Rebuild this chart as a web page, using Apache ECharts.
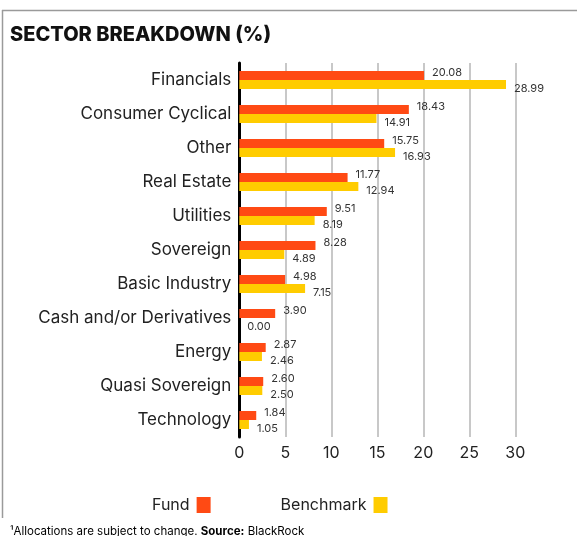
<!DOCTYPE html>
<html>
<head>
<meta charset="utf-8">
<script src="https://cdn.jsdelivr.net/npm/echarts@6/dist/echarts.min.js"></script>
<style>
html,body{margin:0;padding:0;background:#fff;}
#chart{width:577px;height:536px;}
</style>
</head>
<body>
<div id="chart"></div>
<script>
const categories = ["Financials","Consumer Cyclical","Other","Real Estate","Utilities","Sovereign","Basic Industry","Cash and/or Derivatives","Energy","Quasi Sovereign","Technology"];
const fundValues = [20.08,18.43,15.75,11.77,9.51,8.28,4.98,3.90,2.87,2.60,1.84];
const benchmarkValues = [28.99,14.91,16.93,12.94,8.19,4.89,7.15,0.00,2.46,2.50,1.05];
const xTicks = [0,5,10,15,20,25,30];

const FONT = 'Inter, "Noto Sans", sans-serif';
const chart = echarts.init(document.getElementById('chart'));
chart.setOption({
  animation: false,
  backgroundColor: '#fff',
  title: {
    text: 'SECTOR BREAKDOWN (%)',
    left: 5, top: 20,
    textStyle: {fontFamily: FONT, fontSize: 20, fontWeight: 800, color: '#111'}
  },
  legend: {
    data: ['Fund','Benchmark'],
    left: 147, top: 492,
    align: 'right',
    itemWidth: 14, itemHeight: 16, itemGap: 70,
    icon: 'rect',
    textStyle: {fontFamily: FONT, fontSize: 16, color: '#222', padding: [0,2,0,0]}
  },
  grid: {left: 239.3, right: 61.7, top: 63, bottom: 99, containLabel: false},
  xAxis: {
    type: 'value', min: 0, max: 30, interval: 5,
    axisLine: {show: false}, axisTick: {show: false},
    splitLine: {show: true, lineStyle: {color: '#c8c8c8', width: 2}},
    axisLabel: {fontFamily: FONT, fontSize: 16, color: '#222', margin: 8,
      formatter: v => xTicks.includes(v) ? String(v) : ''}
  },
  yAxis: {
    type: 'category', data: categories, inverse: true,
    axisLine: {show: true, lineStyle: {color: '#000', width: 3}},
    axisTick: {show: false},
    axisLabel: {fontFamily: FONT, fontSize: 17, color: '#222', margin: 8}
  },
  series: [
    {
      name: 'Fund', type: 'bar', data: fundValues, barWidth: 9, barGap: '0%',
      itemStyle: {color: '#FF4A14'},
      label: {show: true, position: 'right', distance: 8, offset: [0,-3],
        fontFamily: FONT, fontSize: 11, color: '#333', formatter: p => p.value.toFixed(2)}
    },
    {
      name: 'Benchmark', type: 'bar', data: benchmarkValues, barWidth: 9, barGap: '0%',
      itemStyle: {color: '#FFCC00'},
      label: {show: true, position: 'right', distance: 8, offset: [0,4],
        fontFamily: FONT, fontSize: 11, color: '#333', formatter: p => p.value.toFixed(2)}
    }
  ],
  graphic: [
    {type: 'line', shape: {x1: 2, y1: 10.5, x2: 577, y2: 10.5}, style: {stroke: '#9a9a9a', lineWidth: 1.5}, silent: true},
    {type: 'line', shape: {x1: 2.5, y1: 10, x2: 2.5, y2: 518}, style: {stroke: '#9a9a9a', lineWidth: 1.5}, silent: true},
    {type: 'text', left: 10, top: 526, style: {
      text: '{n|¹Allocations are subject to change. }{b|Source:}{n| BlackRock}',
      rich: {
        n: {fontFamily: FONT, fontSize: 11.5, color: '#111'},
        b: {fontFamily: FONT, fontSize: 11.5, fontWeight: 'bold', color: '#111'}
      }
    }}
  ]
});
</script>
</body>
</html>
